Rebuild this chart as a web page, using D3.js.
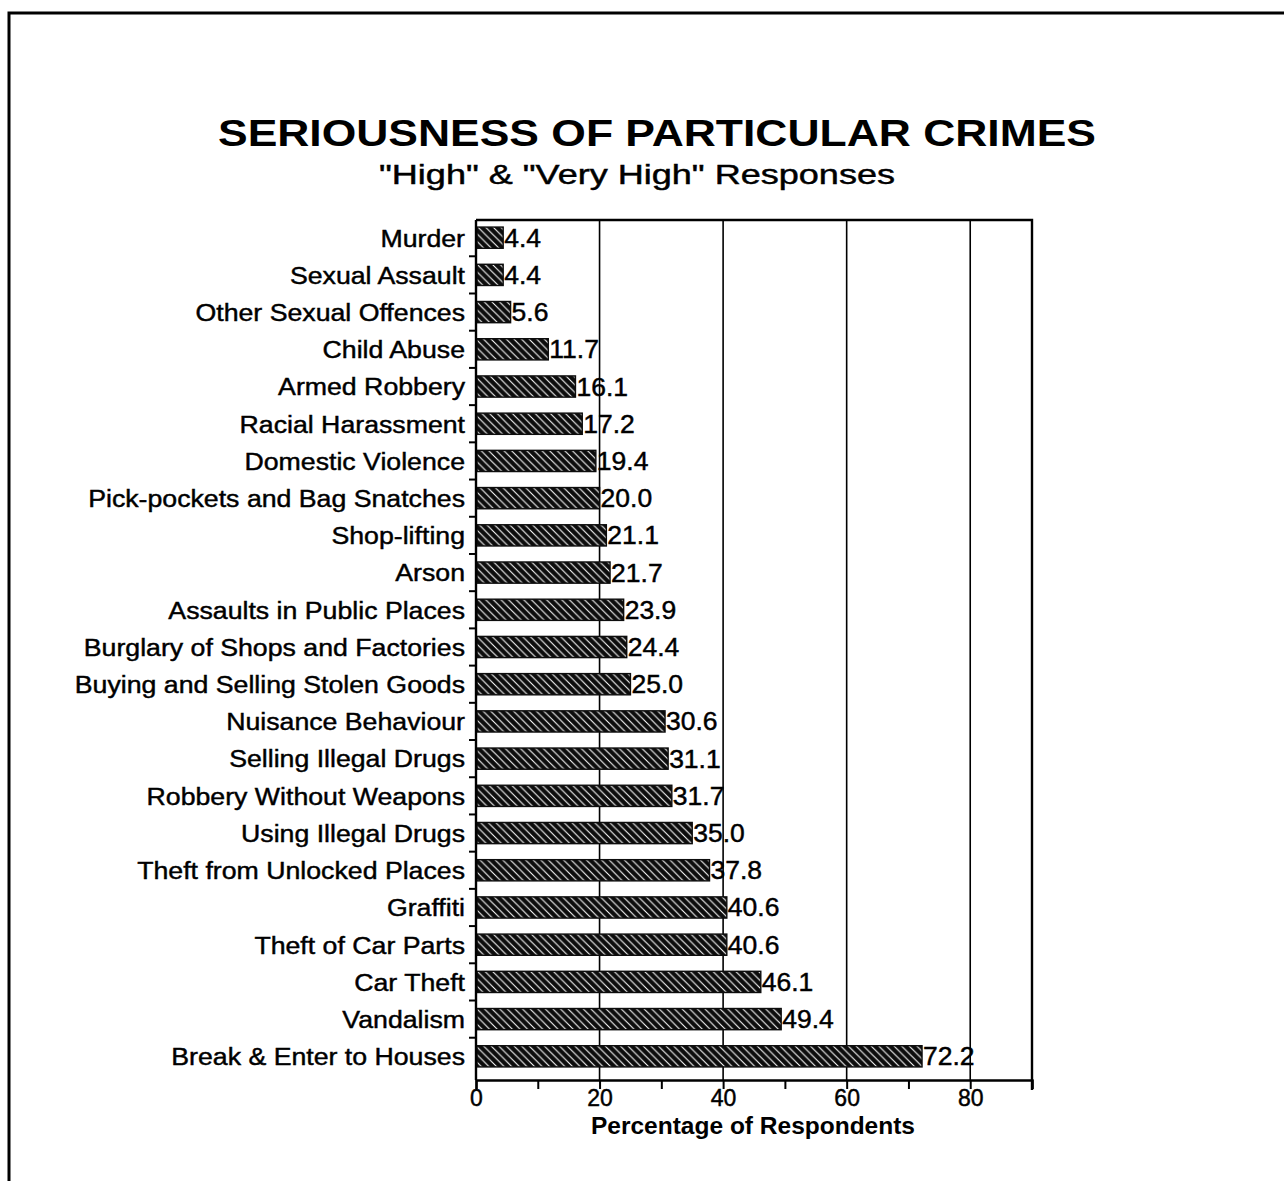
<!DOCTYPE html>
<html>
<head>
<meta charset="utf-8">
<script src="https://cdn.jsdelivr.net/npm/d3@7"></script>
<style>
  html, body { margin: 0; padding: 0; background: #fff; }
  svg { display: block; }
  text { font-family: "Liberation Sans", Arial, Helvetica, sans-serif; fill: #000; }
  .heavy { stroke: #000; stroke-width: 0.45px; }
</style>
</head>
<body>
<svg id="chart" width="1284" height="1181"></svg>
<script>
// Crime categories (top to bottom) and % of respondents rating them "High" or "Very High"
const categories = [
  "Murder", "Sexual Assault", "Other Sexual Offences", "Child Abuse", "Armed Robbery",
  "Racial Harassment", "Domestic Violence", "Pick-pockets and Bag Snatches", "Shop-lifting",
  "Arson", "Assaults in Public Places", "Burglary of Shops and Factories",
  "Buying and Selling Stolen Goods", "Nuisance Behaviour", "Selling Illegal Drugs",
  "Robbery Without Weapons", "Using Illegal Drugs", "Theft from Unlocked Places",
  "Graffiti", "Theft of Car Parts", "Car Theft", "Vandalism", "Break & Enter to Houses"
];
const values = [
  4.4, 4.4, 5.6, 11.7, 16.1, 17.2, 19.4, 20.0, 21.1, 21.7, 23.9, 24.4,
  25.0, 30.6, 31.1, 31.7, 35.0, 37.8, 40.6, 40.6, 46.1, 49.4, 72.2
];
const xTickValues = [0, 10, 20, 30, 40, 50, 60, 70, 80, 90];
const xTickLabels = [0, 20, 40, 60, 80];
const gridValues = [20, 40, 60, 80];

const svg = d3.select("#chart");

// stretch a text element horizontally to a given width
function fitWidth(sel, w) {
  sel.attr("textLength", w).attr("lengthAdjust", "spacingAndGlyphs");
}

// hatch fill: black with thin white back-slash lines
const defs = svg.append("defs");
const P = 7.6;
const pat = defs.append("pattern")
  .attr("id", "hatch")
  .attr("patternUnits", "userSpaceOnUse")
  .attr("width", P).attr("height", P);
pat.append("rect").attr("width", P).attr("height", P).attr("fill", "#0d0d0d");
pat.append("path")
  .attr("d", `M-1,-1 L${P + 1},${P + 1} M-1,${P - 1} L1,${P + 1} M${P - 1},-1 L${P + 1},1`)
  .attr("stroke", "#fff").attr("stroke-width", 1.05);

// outer frame
svg.append("rect")
  .attr("x", 9).attr("y", 13)
  .attr("width", 1300).attr("height", 1200)
  .attr("fill", "none").attr("stroke", "#000").attr("stroke-width", 3);

const plot = { left: 476, top: 220, right: 1032, bottom: 1080 };

const x = d3.scaleLinear().domain([0, 90]).range([plot.left, plot.right]);
const y = d3.scaleBand().domain(categories).range([plot.top, plot.bottom - 6])
  .paddingInner(0.43).paddingOuter(0.19);

// title
svg.append("text")
  .attr("x", 218).attr("y", 146)
  .attr("font-size", 37).attr("font-weight", "bold")
  .text("SERIOUSNESS OF PARTICULAR CRIMES")
  .call(fitWidth, 878);
svg.append("text")
  .attr("class", "heavy")
  .attr("x", 379).attr("y", 184)
  .attr("font-size", 27)
  .text("\"High\" & \"Very High\" Responses")
  .call(fitWidth, 516);

// vertical gridlines
svg.append("g").selectAll("line").data(gridValues).join("line")
  .attr("x1", d => x(d)).attr("x2", d => x(d))
  .attr("y1", plot.top).attr("y2", plot.bottom)
  .attr("stroke", "#000").attr("stroke-width", 1.6);

// top and right border of plot
svg.append("path")
  .attr("d", `M${plot.left},${plot.top} H${plot.right} V${plot.bottom + 10}`)
  .attr("fill", "none").attr("stroke", "#000").attr("stroke-width", 2.4);

// bars
const rows = categories.map((c, i) => ({ c, v: values[i] }));
svg.append("g").selectAll("rect").data(rows).join("rect")
  .attr("x", x(0) + 1)
  .attr("y", d => y(d.c))
  .attr("width", d => x(d.v) - x(0) - 1)
  .attr("height", y.bandwidth())
  .attr("fill", "url(#hatch)")
  .attr("stroke", "#0d0d0d").attr("stroke-width", 1.4);

// value labels
svg.append("g").selectAll("text").data(rows).join("text")
  .attr("class", "heavy")
  .attr("transform", d => `translate(${x(d.v) + 1},${y(d.c) + y.bandwidth() / 2}) scale(1.06,1)`)
  .attr("dy", "0.36em")
  .attr("font-size", 25)
  .text(d => d.v.toFixed(1));

// left axis: line with ticks between categories
const yAxis = svg.append("g");
yAxis.append("line")
  .attr("x1", plot.left).attr("x2", plot.left)
  .attr("y1", plot.top).attr("y2", plot.bottom)
  .attr("stroke", "#000").attr("stroke-width", 2.4);
const step = y.step();
yAxis.selectAll("line.tick").data(categories.slice(1)).join("line")
  .attr("class", "tick")
  .attr("x1", plot.left - 7).attr("x2", plot.left)
  .attr("y1", d => y(d) - step * y.paddingInner() / 2)
  .attr("y2", d => y(d) - step * y.paddingInner() / 2)
  .attr("stroke", "#000").attr("stroke-width", 2);
yAxis.selectAll("text").data(categories).join("text")
  .attr("class", "heavy")
  .attr("transform", d => `translate(${plot.left - 11},${y(d) + y.bandwidth() / 2}) scale(1.09,1)`)
  .attr("dy", "0.36em")
  .attr("text-anchor", "end")
  .attr("font-size", 24.5)
  .text(d => d);

// bottom axis
const xAxis = d3.axisBottom(x)
  .tickValues(xTickValues)
  .tickSize(9)
  .tickFormat(d => xTickLabels.includes(d) ? d : "");
const gx = svg.append("g").attr("transform", `translate(0,${plot.bottom})`).call(xAxis);
gx.select(".domain").attr("stroke-width", 2.4);
gx.selectAll(".tick line").attr("stroke-width", 2);
gx.selectAll(".tick text")
  .attr("class", "heavy")
  .attr("font-size", 23)
  .attr("font-family", "Liberation Sans, Arial, sans-serif")
  .attr("dy", "0")
  .attr("y", 26);

svg.append("text")
  .attr("x", 753).attr("y", 1134)
  .attr("text-anchor", "middle")
  .attr("font-size", 24.5).attr("font-weight", "bold")
  .text("Percentage of Respondents");
</script>
</body>
</html>
